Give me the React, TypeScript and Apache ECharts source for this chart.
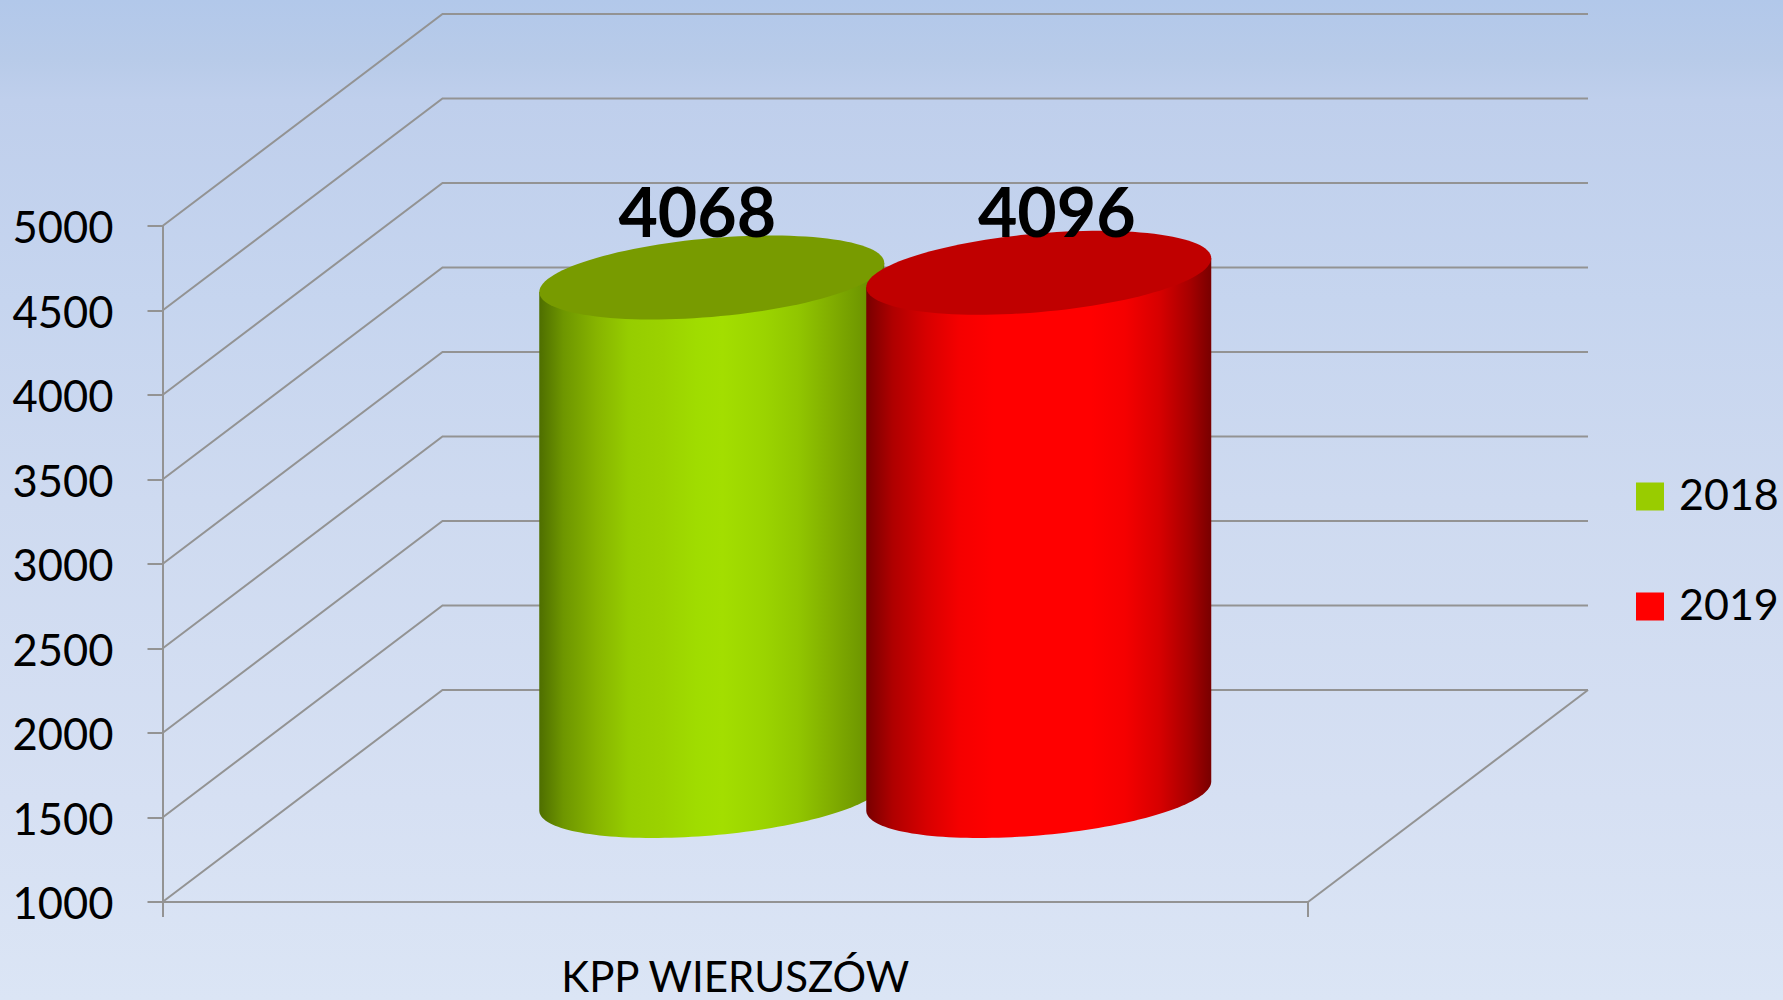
import React, { useEffect, useRef } from "react";
import * as echarts from "echarts";

const categories = ["KPP WIERUSZÓW"];
const seriesNames = ["2018", "2019"];
const values2018 = [4068];
const values2019 = [4096];
const tickValues = [1000, 1500, 2000, 2500, 3000, 3500, 4000, 4500, 5000];

const FONT = "Lato";
const GRAY = "#939393";
const DEPTH_X = 280;
const DEPTH_Y = 212;
const HALF_W = 172.5;
const SKEW = 14.5;
const MINOR = 39.4;
const LEGEND_ICON = "path://M0 6h28v28h-28z M0 0h0.01v0.01z";

const wallItem = (params: any, api: any) => {
  const v = api.value(1);
  const cs = params.coordSys;
  const p = api.coord([0, v]);
  const x0 = cs.x;
  const y = p[1];
  const children: any[] = [
    {
      type: "polyline",
      shape: {
        points: [
          [x0, y],
          [x0 + DEPTH_X, y - DEPTH_Y],
          [x0 + cs.width + DEPTH_X, y - DEPTH_Y],
        ],
      },
      style: { fill: "none", stroke: GRAY, lineWidth: 2 },
    },
  ];
  if (v === tickValues[0]) {
    children.push({
      type: "line",
      shape: { x1: x0 + cs.width, y1: y, x2: x0 + cs.width + DEPTH_X, y2: y - DEPTH_Y },
      style: { stroke: GRAY, lineWidth: 2 },
    });
  }
  return { type: "group", children };
};

const cylinder = (opts: {
  offset: number;
  stops: [number, string][];
  topColor: string;
  labelDx: number;
  labelDy: number;
}) => (params: any, api: any) => {
  const v = api.value(1);
  const top = api.coord([0, v]);
  const base = api.coord([0, tickValues[0]]);
  const cx = top[0] + DEPTH_X / 2 + opts.offset;
  const yTop = top[1] - DEPTH_Y / 2;
  const yBase = base[1] - DEPTH_Y / 2;
  const pt = (yc: number, t: number) => [
    cx + HALF_W * Math.cos(t),
    yc - SKEW * Math.cos(t) + MINOR * Math.sin(t),
  ];
  const ring: number[][] = [];
  for (let i = 0; i < 120; i++) ring.push(pt(yTop, (i / 120) * Math.PI * 2));
  const body: number[][] = [pt(yTop, Math.PI), pt(yTop, 0)];
  for (let i = 0; i <= 80; i++) body.push(pt(yBase, (i / 80) * Math.PI));
  return {
    type: "group",
    children: [
      {
        type: "polygon",
        shape: { points: body },
        style: {
          fill: new echarts.graphic.LinearGradient(
            0, 0, 1, 0,
            opts.stops.map(([offset, color]) => ({ offset, color }))
          ),
        },
      },
      { type: "polygon", shape: { points: ring }, style: { fill: opts.topColor } },
      {
        type: "text",
        x: cx + opts.labelDx,
        y: yTop + opts.labelDy,
        style: {
          text: String(v),
          fill: "#000",
          font: `bold 68px ${FONT}`,
          align: "center",
          verticalAlign: "middle",
        },
      },
    ],
  };
};

export default function App() {
  const ref = useRef<HTMLDivElement>(null);
  useEffect(() => {
    const chart = echarts.init(ref.current!, null, { renderer: "svg" });
    chart.setOption({
      animation: false,
      backgroundColor: new echarts.graphic.LinearGradient(0, 0, 0, 1, [
        { offset: 0, color: "#b2c8ea" },
        { offset: 0.06, color: "#b8cbe9" },
        { offset: 0.1, color: "#bfcfec" },
        { offset: 0.3, color: "#c6d5ef" },
        { offset: 0.5, color: "#cedaf0" },
        { offset: 0.8, color: "#d6e0f3" },
        { offset: 1, color: "#dbe5f5" },
      ]),
      grid: { left: 162.5, top: 226, width: 1145.5, height: 676, outerBoundsMode: "none" },
      xAxis: {
        type: "category",
        data: categories,
        axisLine: { lineStyle: { color: GRAY, width: 2 } },
        axisTick: { show: true, length: 15, lineStyle: { color: GRAY, width: 2 } },
        axisLabel: {
          color: "#000",
          fontFamily: FONT,
          fontSize: 42,
          lineHeight: 30,
          margin: 59,
        },
      },
      yAxis: {
        type: "value",
        min: 1000,
        max: 5000,
        interval: 500,
        splitLine: { show: false },
        axisLine: { show: true, lineStyle: { color: GRAY, width: 2 } },
        axisTick: { show: true, length: 15, lineStyle: { color: GRAY, width: 2 } },
        axisLabel: {
          color: "#000",
          fontFamily: FONT,
          fontSize: 43.5,
          margin: 49,
          formatter: (v: number) => String(v),
        },
      },
      legend: {
        data: seriesNames,
        orient: "vertical",
        left: 1636,
        top: 472,
        padding: 0,
        itemWidth: 28,
        itemHeight: 34,
        itemGap: 67,
        icon: LEGEND_ICON,
        textStyle: { color: "#000", fontFamily: FONT, fontSize: 43, padding: [0, 0, 0, 10] },
      },
      series: [
        {
          type: "custom",
          name: "walls",
          silent: true,
          clip: false,
          encode: { x: 0, y: 1 },
          data: tickValues.map((v) => [0, v]),
          renderItem: wallItem,
          z: 1,
        },
        {
          type: "custom",
          name: seriesNames[0],
          silent: true,
          clip: false,
          encode: { x: 0, y: 1 },
          itemStyle: { color: "#99cc00" },
          data: values2018.map((v, i) => [i, v]),
          z: 2,
          renderItem: cylinder({
            offset: -163.5,
            topColor: "#789b00",
            labelDx: -14.5,
            labelDy: -67,
            stops: [
              [0, "#4e6e00"],
              [0.07, "#6e9600"],
              [0.167, "#87b400"],
              [0.26, "#96cd00"],
              [0.36, "#9bd200"],
              [0.457, "#a0dc00"],
              [0.53, "#a3de00"],
              [0.65, "#9bd400"],
              [0.75, "#91c600"],
              [0.84, "#82af00"],
              [0.94, "#6e9600"],
              [1, "#5a7800"],
            ],
          }),
        },
        {
          type: "custom",
          name: seriesNames[1],
          silent: true,
          clip: false,
          encode: { x: 0, y: 1 },
          itemStyle: { color: "#ff0000" },
          data: values2019.map((v, i) => [i, v]),
          z: 3,
          renderItem: cylinder({
            offset: 163.5,
            topColor: "#c00000",
            labelDx: 18,
            labelDy: -62,
            stops: [
              [0, "#780000"],
              [0.077, "#af0000"],
              [0.174, "#d70000"],
              [0.27, "#f50000"],
              [0.37, "#ff0000"],
              [0.65, "#ff0000"],
              [0.75, "#f50000"],
              [0.85, "#d70000"],
              [0.94, "#a50000"],
              [1, "#780000"],
            ],
          }),
        },
      ],
    });
    return () => chart.dispose();
  }, []);
  return (
    <div
      ref={ref}
      style={{ position: "absolute", left: 0, top: 0, width: 1783, height: 1000 }}
    />
  );
}
